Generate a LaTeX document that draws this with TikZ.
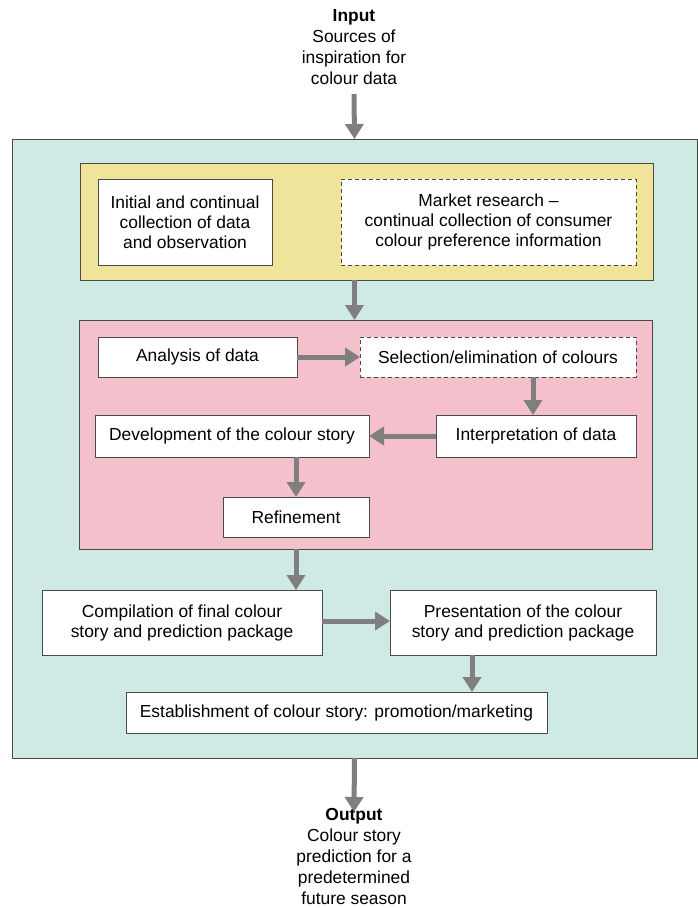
\documentclass[tikz,border=0pt]{standalone}
\usepackage{fontspec}
\setmainfont{Liberation Sans}
\usetikzlibrary{arrows.meta}
\definecolor{teal0}{HTML}{CFE9E4}
\definecolor{yell0}{HTML}{F0E49A}
\definecolor{pink0}{HTML}{F4C0CC}
\definecolor{edge0}{HTML}{4A4A4A}
\definecolor{arr0}{HTML}{7F7F7F}
\tikzset{
  panel/.style={draw=edge0, line width=0.8pt, inner sep=0pt, outer sep=0pt},
  box/.style={draw=edge0, line width=0.8pt, fill=white, align=center, inner sep=0pt, outer sep=0pt,
    font=\fontsize{17.4}{20}\selectfont},
  dbox/.style={box, dash pattern=on 4pt off 3pt},
  flow/.style={draw=arr0, line width=5pt, -{Triangle[width=18pt,length=15pt]}},
  lbl/.style={align=center, inner sep=0pt, outer sep=0pt, font=\fontsize{17.4}{21}\selectfont}
}
\begin{document}
\begin{tikzpicture}[x=1pt,y=-1pt]
\useasboundingbox (0,0) rectangle (698,908);
\fill[white] (0,0) rectangle (698,908);
% panels
\node[panel, fill=teal0, minimum width=685pt, minimum height=619pt] (teal) at (354.5,448.5) {};
\node[panel, fill=yell0, minimum width=573pt, minimum height=117pt] (yellow) at (366.5,221.5) {};
\node[panel, fill=pink0, minimum width=573pt, minimum height=229pt] (pink) at (365.5,434.5) {};
% input / output
\node[lbl, anchor=north] (input) at (354,10) {\textbf{Input}\\Sources of\\inspiration for\\colour data};
\node[lbl, anchor=north] (output) at (354,808) {\textbf{Output}\\Colour story\\prediction for a\\predetermined\\future season};
% boxes
\node[box, minimum width=174pt, minimum height=86pt] (b1) at (185,222) {Initial and continual\\collection of data\\and observation};
\node[dbox, minimum width=295pt, minimum height=86pt] (b2) at (488.5,222) {Market research --\\continual collection of consumer\\colour preference information};
\node[box, minimum width=199pt, minimum height=40pt] (ana) at (197.5,357) {Analysis of data};
\node[dbox, minimum width=276pt, minimum height=40pt] (sel) at (498,357) {Selection/elimination of colours};
\node[box, minimum width=200pt, minimum height=42pt] (int) at (536,436) {Interpretation of data};
\node[box, minimum width=274pt, minimum height=42pt] (dev) at (232,436) {Development of the colour story};
\node[box, minimum width=146pt, minimum height=40pt] (ref) at (296,517) {Refinement};
\node[box, minimum width=280pt, minimum height=65pt] (comp) at (182,622.5) {Compilation of final colour\\story and prediction package};
\node[box, minimum width=266pt, minimum height=65pt] (pres) at (523,622.5) {Presentation of the colour\\story and prediction package};
\node[box, minimum width=421pt, minimum height=41pt] (est) at (336.5,712.5) {Establishment of colour story: promotion/marketing};
\coordinate (pa) at ([xshift=-51pt]pres.south);
% arrows
\draw[flow] ([yshift=-9pt]input.south) -- (teal.north);
\draw[flow] (yellow.south -| teal.north) -- (pink.north -| teal.north);
\draw[flow] (ana.east) -- (sel.west);
\draw[flow] ([xshift=-3pt]int.north |- sel.south) -- ([xshift=-3pt]int.north);
\draw[flow] (int.west) -- (dev.east);
\draw[flow] (ref.north |- dev.south) -- (ref.north);
\draw[flow] (ref.south |- pink.south) -- (ref.south |- comp.north);
\draw[flow] ([yshift=1.5pt]comp.east) -- ([yshift=1.5pt]pres.west);
\draw[flow] (pa) -- (pa |- est.north);
\draw[flow] (teal.south) -- ([yshift=-4pt]output.north);
\end{tikzpicture}
\end{document}
